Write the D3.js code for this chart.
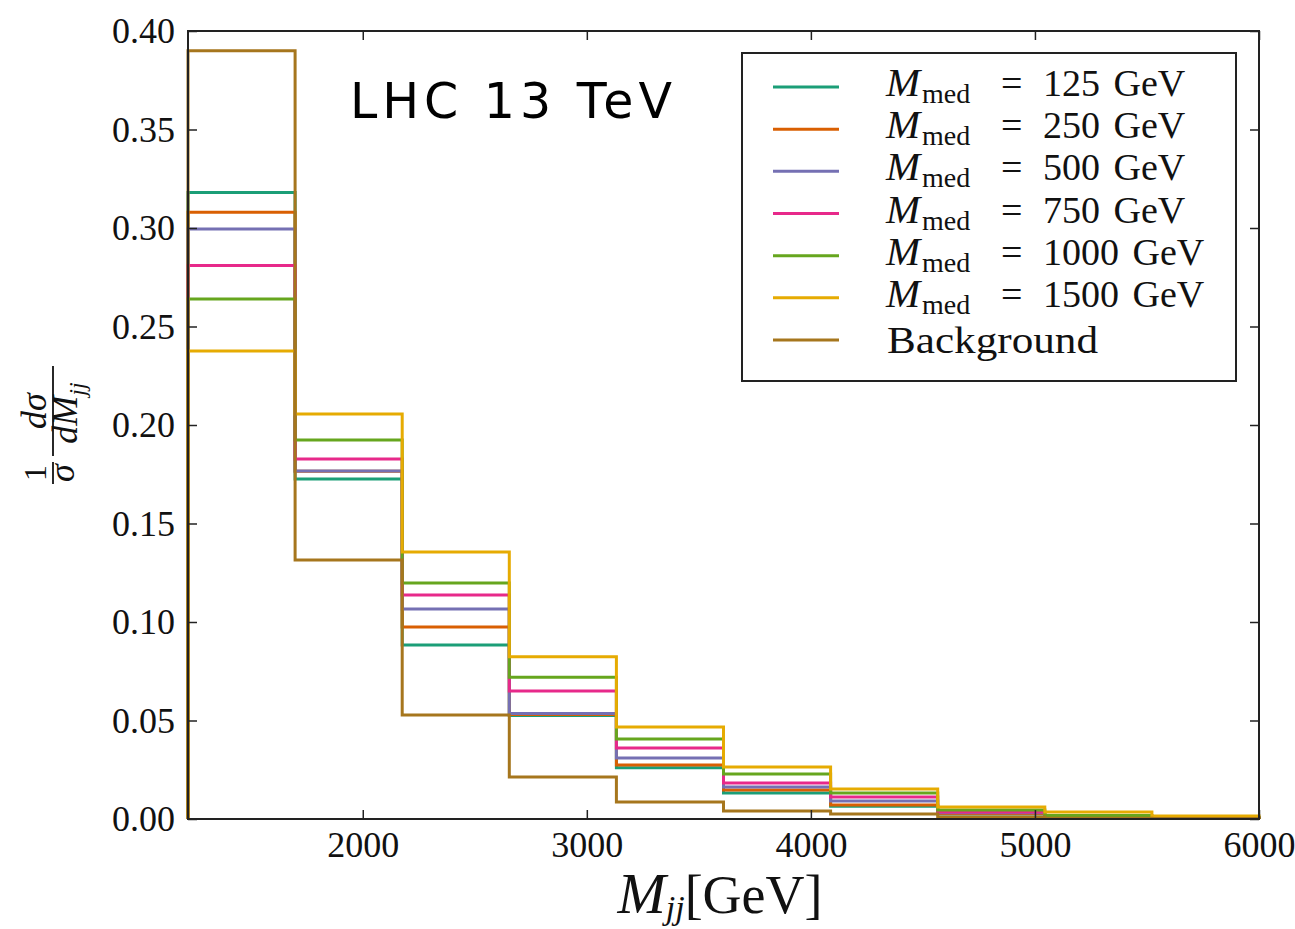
<!DOCTYPE html>
<html>
<head>
<meta charset="utf-8">
<script src="https://cdn.jsdelivr.net/npm/d3@7"></script>
<style>
  body { margin: 0; background: white; }
  svg { display: block; }
</style>
</head>
<body>
<div id="vis"></div>
<script>
// bin edges of the M_jj histogram (GeV)
let binEdges = [1220, 1698, 2176, 2654, 3132, 3610, 4088, 4566, 5044, 5522, 6000];

// normalised distributions, one value per bin
let med125  = [0.318, 0.1726, 0.0883, 0.0525, 0.0260, 0.0132, 0.0065, 0.0025, 0.0010, 0.0004];
let med250  = [0.308, 0.1765, 0.0975, 0.0530, 0.0274, 0.0147, 0.0071, 0.0028, 0.0011, 0.0004];
let med500  = [0.2995, 0.1767, 0.1066, 0.0535, 0.0310, 0.0162, 0.0091, 0.0032, 0.0012, 0.0005];
let med750  = [0.281, 0.1827, 0.1137, 0.0650, 0.0360, 0.0183, 0.0112, 0.0036, 0.0014, 0.0006];
let med1000 = [0.264, 0.1924, 0.1198, 0.0720, 0.0406, 0.0228, 0.0132, 0.0046, 0.0018, 0.0007];
let med1500 = [0.2376, 0.2056, 0.1355, 0.0823, 0.0467, 0.0264, 0.0152, 0.0061, 0.0036, 0.0015];
let background = [0.390, 0.1315, 0.0528, 0.0213, 0.0086, 0.0040, 0.0025, 0.0010, 0.0004, 0.0002];

let massLabels = ['125', '250', '500', '750', '1000', '1500'];
let xTicks = [2000, 3000, 4000, 5000, 6000];
let yTicks = [0, 0.05, 0.10, 0.15, 0.20, 0.25, 0.30, 0.35, 0.40];

let series = [
  { label: massLabels[0], values: med125,  color: '#1b9e77' },
  { label: massLabels[1], values: med250,  color: '#d95f02' },
  { label: massLabels[2], values: med500,  color: '#7570b3' },
  { label: massLabels[3], values: med750,  color: '#e7298a' },
  { label: massLabels[4], values: med1000, color: '#66a61e' },
  { label: massLabels[5], values: med1500, color: '#e6ab02' },
  { label: null, values: background, color: '#a6761d' }
];

let W = 1295, H = 929;
let margin = { top: 31, left: 188, right: 36, bottom: 110 };

let svg = d3.select('#vis')
  .append('svg')
  .attr('width', W)
  .attr('height', H);

let x = d3.scaleLinear().domain([1220, 6000]).range([margin.left, W - margin.right]);
let y = d3.scaleLinear().domain([0, 0.40]).range([H - margin.bottom, margin.top]);

let serif = 'Liberation Serif, Times New Roman, serif';

// step histograms
let line = d3.line().x(d => x(d[0])).y(d => y(d[1]));

function stepPoints(values) {
  let pts = [[binEdges[0], 0]];
  values.forEach((v, i) => {
    pts.push([binEdges[i], v]);
    pts.push([binEdges[i + 1], v]);
  });
  pts.push([binEdges[binEdges.length - 1], 0]);
  return pts;
}

svg.append('g')
  .selectAll('path')
  .data(series)
  .join('path')
  .attr('d', d => line(stepPoints(d.values)))
  .attr('fill', 'none')
  .attr('stroke', d => d.color)
  .attr('stroke-width', 3)
  .attr('stroke-linejoin', 'miter');

// axes, ticks inside on all four sides
let x0 = x.range()[0], x1 = x.range()[1], y0 = y.range()[0], y1 = y.range()[1];
let axisColor = '#222';

let bottomAxis = svg.append('g').attr('transform', `translate(0,${y0})`)
  .call(d3.axisBottom(x).tickValues(xTicks).tickSizeInner(-9).tickSizeOuter(0).tickPadding(12).tickFormat(d3.format('d')));
let topAxis = svg.append('g').attr('transform', `translate(0,${y1})`)
  .call(d3.axisTop(x).tickValues(xTicks).tickSizeInner(-9).tickSizeOuter(0).tickFormat(''));
let leftAxis = svg.append('g').attr('transform', `translate(${x0},0)`)
  .call(d3.axisLeft(y).tickValues(yTicks).tickSizeInner(-9).tickSizeOuter(0).tickPadding(13).tickFormat(d3.format('.2f')));
let rightAxis = svg.append('g').attr('transform', `translate(${x1},0)`)
  .call(d3.axisRight(y).tickValues(yTicks).tickSizeInner(-9).tickSizeOuter(0).tickFormat(''));

[bottomAxis, topAxis, leftAxis, rightAxis].forEach(a => {
  a.select('.domain').remove();
  a.selectAll('line').attr('stroke', axisColor).attr('stroke-width', 1.5);
  a.selectAll('text').attr('font-family', serif).attr('font-size', 36).attr('fill', '#111');
});
bottomAxis.selectAll('text').attr('dy', '0.71em');

svg.append('rect')
  .attr('x', x0).attr('y', y1)
  .attr('width', x1 - x0).attr('height', y0 - y1)
  .attr('fill', 'none')
  .attr('stroke', axisColor)
  .attr('stroke-width', 2);

// x label
let xl = svg.append('text')
  .attr('x', 720).attr('y', 913)
  .attr('text-anchor', 'middle')
  .attr('font-family', serif)
  .attr('font-size', 54)
  .attr('fill', '#111');
xl.append('tspan').attr('font-style', 'italic').attr('font-size', 58).text('M');
xl.append('tspan').attr('font-style', 'italic').attr('font-size', 34).attr('dy', 6).text('jj');
xl.append('tspan').attr('dy', -6).text('[GeV]');

// y label: 1/sigma dsigma/dM_jj
let yl = svg.append('g')
  .attr('transform', 'translate(53,422) rotate(-90)')
  .attr('font-family', serif)
  .attr('fill', '#111');
yl.append('line').attr('x1', -62).attr('x2', -40).attr('y1', 0).attr('y2', 0)
  .attr('stroke', '#111').attr('stroke-width', 1.8);
yl.append('line').attr('x1', -34).attr('x2', 56).attr('y1', 0).attr('y2', 0)
  .attr('stroke', '#111').attr('stroke-width', 1.8);
yl.append('text').attr('x', -51).attr('y', -7).attr('text-anchor', 'middle')
  .attr('font-size', 32).text('1');
yl.append('text').attr('x', -51).attr('y', 21).attr('text-anchor', 'middle')
  .attr('font-size', 36).attr('font-style', 'italic').text('σ');
yl.append('text').attr('x', 11).attr('y', -7).attr('text-anchor', 'middle')
  .attr('font-size', 36).attr('font-style', 'italic').text('dσ');
let den = yl.append('text').attr('x', 9).attr('y', 24).attr('text-anchor', 'middle')
  .attr('font-size', 36).attr('font-style', 'italic');
den.append('tspan').text('dM');
den.append('tspan').attr('font-size', 24).attr('dy', 8).text('jj');

// annotation
svg.append('text')
  .attr('x', 350).attr('y', 118)
  .attr('font-family', 'DejaVu Sans, sans-serif')
  .attr('font-size', 49)
  .attr('textLength', 322)
  .attr('lengthAdjust', 'spacing')
  .attr('fill', '#000')
  .text('LHC 13 TeV');

// legend
let legend = svg.append('g');
legend.append('rect')
  .attr('x', 742).attr('y', 53)
  .attr('width', 494).attr('height', 328)
  .attr('fill', 'white')
  .attr('stroke', '#222')
  .attr('stroke-width', 2);

let rowY = d3.scaleLinear().domain([0, 6]).range([87, 340]);

let rows = legend.selectAll('g.row')
  .data(series)
  .join('g')
  .attr('class', 'row')
  .attr('transform', (d, i) => `translate(0,${rowY(i)})`);

rows.append('line')
  .attr('x1', 773).attr('x2', 839)
  .attr('y1', 0).attr('y2', 0)
  .attr('stroke', d => d.color)
  .attr('stroke-width', 3);

rows.each(function(d) {
  let t = d3.select(this).append('text')
    .attr('y', 9)
    .attr('font-family', serif)
    .attr('font-size', 38)
    .attr('fill', '#111');
  if (d.label === null) {
    t.attr('x', 887).attr('y', 13).attr('textLength', 211).attr('lengthAdjust', 'spacingAndGlyphs').text('Background');
  } else {
    t.append('tspan').attr('x', 886).attr('font-style', 'italic').attr('font-size', 41).text('M');
    t.append('tspan').attr('x', 922).attr('dy', 7).attr('font-size', 28).text('med');
    t.append('tspan').attr('x', 1001).attr('dy', -7).text('=');
    t.append('tspan').attr('x', 1043).attr('word-spacing', 4).text(d.label + ' GeV');
  }
});
</script>
</body>
</html>
